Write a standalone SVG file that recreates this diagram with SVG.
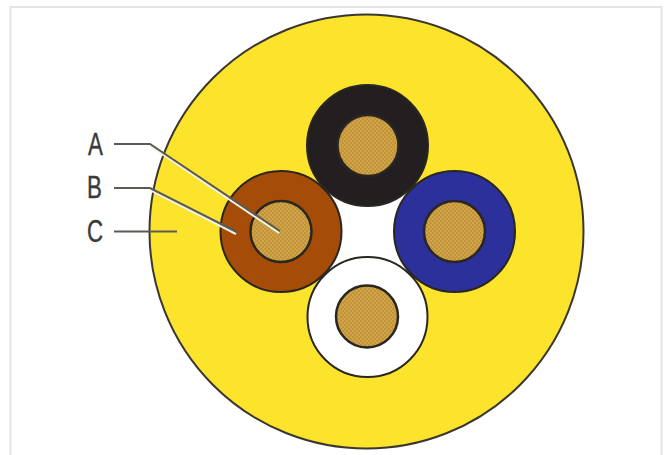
<svg xmlns="http://www.w3.org/2000/svg" width="669" height="455" viewBox="0 0 669 455">
<style>
.cable{stroke:#2a2622;stroke-width:2}
.core{fill:url(#mesh);stroke:#2a2622;stroke-width:2.500}
.lead{fill:none;stroke:#5c5a55;stroke-width:2}
.halo{fill:none;stroke:#f6f3e6;stroke-width:2}
.label{font-family:"Liberation Sans",sans-serif;font-size:31px;fill:#3a3a3a;stroke:#3a3a3a;stroke-width:.4}
</style>
<defs>
<pattern id="mesh" width="4" height="4" patternUnits="userSpaceOnUse">
<rect width="4" height="4" fill="#d0a545"/>
<rect width="2" height="2" fill="#c2933c"/>
<rect x="2" y="2" width="2" height="2" fill="#c2933c"/>
</pattern>
</defs>
<rect width="669" height="455" fill="#fff"/>
<path d="M10.500 455V7H661.500V455" fill="none" stroke="#e4e4e4" stroke-width="2"/>
<g id="jacket">
<circle cx="366.500" cy="231.500" r="217" fill="#fde42c" stroke="#3a3630" stroke-width="2"/>
<path d="M367 145L454 231L367 317L281 231Z" fill="#fff"/>
</g>
<g id="cable-black">
<circle class="cable" cx="367.500" cy="145.500" r="60.500" fill="#231f20"/>
<circle class="core" cx="368" cy="145.500" r="30.500"/>
</g>
<g id="cable-brown">
<circle class="cable" cx="281" cy="231.500" r="60.500" fill="#a44c08"/>
<circle class="core" cx="281" cy="231.500" r="30.500"/>
</g>
<g id="cable-blue">
<circle class="cable" cx="454.500" cy="231.500" r="60.500" fill="#2b309a"/>
<circle class="core" cx="454.500" cy="231.500" r="30.500"/>
</g>
<g id="cable-white">
<circle class="cable" cx="367.500" cy="317" r="60" fill="#fff"/>
<circle class="core" cx="367" cy="316.500" r="31"/>
</g>
<g id="connectors">
<path class="halo" d="M150 146L279 233"/>
<path class="halo" d="M150 190L236 234"/>
<path class="lead" d="M114 144H150L280 231"/>
<path class="lead" d="M114 188H150L237 232"/>
<path class="lead" d="M114 231.500H177"/>
</g>
<g id="label-a"><text class="label" transform="translate(88 155) scale(.72 1)">A</text></g>
<g id="label-b"><text class="label" transform="translate(87 198) scale(.72 1)">B</text></g>
<g id="label-c"><text class="label" transform="translate(87 242) scale(.72 1)">C</text></g>
</svg>
